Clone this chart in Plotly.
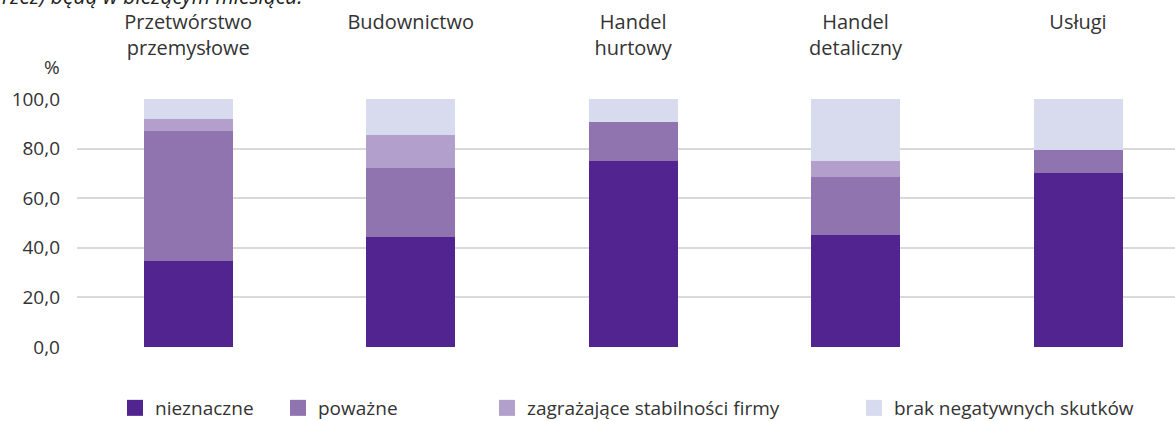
import plotly.graph_objects as go

# sectors (top axis labels); single-line names get an empty second line so they sit on top
categories = ["Przetwórstwo<br>przemysłowe", "Budownictwo<br>\u00a0", "Handel<br>hurtowy",
              "Handel<br>detaliczny", "Usługi<br>\u00a0"]

# share of firms, %
nieznaczne = [34.7, 44.4, 75.0, 45.0, 70.3]
powazne = [52.2, 27.6, 15.6, 23.7, 9.3]
zagrazajace = [4.9, 13.5, 0.0, 6.3, 0.0]
brak = [8.2, 14.5, 9.4, 25.0, 20.4]

series = [
    ("nieznaczne", nieznaczne, "#52248f"),
    ("poważne", powazne, "#8f74b0"),
    ("zagrażające stabilności firmy", zagrazajace, "#b29fcc"),
    ("brak negatywnych skutków", brak, "#d8dbee"),
]

W, H = 1175, 421
FONT = "Open Sans"
TXT = "#333333"

# centre of each legend square (px) - one legend per item so spacing matches
leg_x = [135, 298, 507, 874]

fig = go.Figure()
for i, (name, vals, col) in enumerate(series):
    lg = "legend" if i == 0 else "legend%d" % (i + 1)
    fig.add_trace(go.Bar(
        x=list(range(len(categories))), y=vals, name=name,
        marker=dict(color=col, line=dict(width=0)),
        width=0.4, showlegend=False,
    ))
    # legend-only entry so the key square can be bigger than the bar default
    fig.add_trace(go.Scatter(
        x=[None], y=[None], mode="markers", name=name,
        marker=dict(symbol="square", size=16, color=col),
        legend=lg, showlegend=True, hoverinfo="skip",
    ))

legends = {}
for i, px in enumerate(leg_x):
    key = "legend" if i == 0 else "legend%d" % (i + 1)
    legends[key] = dict(
        xref="container", yref="container",
        x=(px - 20) / W, y=1 - 408 / H, xanchor="left", yanchor="middle",
        orientation="h", bgcolor="rgba(0,0,0,0)",
        font=dict(family=FONT, size=19, color=TXT),
        itemclick=False, itemdoubleclick=False,
    )

fig.update_layout(
    width=W, height=H,
    margin=dict(l=77, r=0, t=99, b=74),
    barmode="stack",
    showlegend=True,
    paper_bgcolor="white", plot_bgcolor="white",
    separators=", ",
    font=dict(family=FONT, size=20, color=TXT),
    xaxis=dict(
        side="top", range=[-0.5, 4.436],
        tickvals=list(range(len(categories))), ticktext=categories,
        showgrid=False, zeroline=False, showline=False, ticks="",
        ticklabelstandoff=39,
        tickfont=dict(family=FONT, size=20, color=TXT),
    ),
    yaxis=dict(
        range=[0, 100], tickvals=[0, 20, 40, 60, 80, 100], tickformat=".1f",
        showgrid=True, gridcolor="#d9d9d9", gridwidth=1.5,
        zeroline=False, showline=False, ticks="",
        ticklabelstandoff=16,
        tickfont=dict(family=FONT, size=19, color=TXT),
    ),
    annotations=[
        dict(text="%", xref="paper", yref="paper",
             x=-25 / 1098, y=1 + 32 / 248, xanchor="center", yanchor="middle",
             showarrow=False, font=dict(family=FONT, size=19, color=TXT)),
        # tail of the chart subtitle, cut by the top edge as in the source
        dict(text="<i>rzez) będą w bieżącym miesiącu.</i>", xref="paper", yref="paper",
             x=-77 / 1098, y=1 + 103 / 248, xanchor="left", yanchor="middle",
             showarrow=False, font=dict(family=FONT, size=21, color="#222222")),
    ],
    **legends,
)

# page body has a default 8px margin; drop it so the figure fills the window
fig.write_html("out.html", config={"displayModeBar": False},
               post_script="document.body.style.margin='0';")
